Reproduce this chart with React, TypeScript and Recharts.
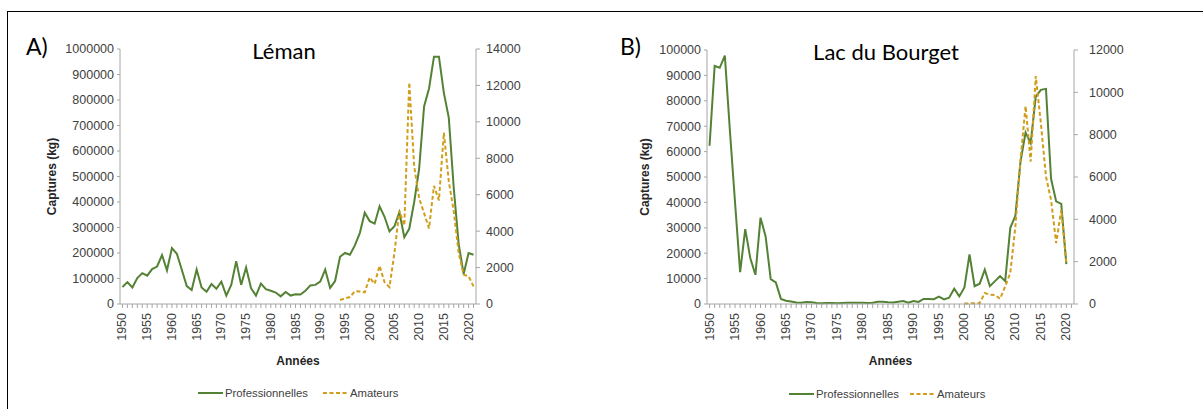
import React from "react";
import { LineChart, Line, XAxis, YAxis } from "recharts";

// categories (both panels share the same year axis)
const years = [
  1950, 1951, 1952, 1953, 1954, 1955, 1956, 1957, 1958, 1959,
  1960, 1961, 1962, 1963, 1964, 1965, 1966, 1967, 1968, 1969,
  1970, 1971, 1972, 1973, 1974, 1975, 1976, 1977, 1978, 1979,
  1980, 1981, 1982, 1983, 1984, 1985, 1986, 1987, 1988, 1989,
  1990, 1991, 1992, 1993, 1994, 1995, 1996, 1997, 1998, 1999,
  2000, 2001, 2002, 2003, 2004, 2005, 2006, 2007, 2008, 2009,
  2010, 2011, 2012, 2013, 2014, 2015, 2016, 2017, 2018, 2019,
  2020, 2021,
];

// A) Léman
const lemanPro = [
  67000, 86000, 65000, 102000, 121000, 111000, 137000, 147000, 192000, 132000,
  219000, 197000, 134000, 70000, 55000, 135000, 65000, 48000, 78000, 60000,
  88000, 33000, 75000, 168000, 75000, 143000, 62000, 33000, 80000, 58000,
  52000, 45000, 30000, 47000, 33000, 38000, 37000, 52000, 73000, 75000,
  88000, 135000, 63000, 90000, 185000, 200000, 193000, 230000, 278000, 358000,
  325000, 315000, 383000, 342000, 285000, 305000, 360000, 262000, 295000, 400000,
  530000, 775000, 845000, 970000, 970000, 828000, 730000, 455000, 235000, 118000,
  200000, 193000,
];
const lemanAmateurs = [
  null, null, null, null, null, null, null, null, null, null,
  null, null, null, null, null, null, null, null, null, null,
  null, null, null, null, null, null, null, null, null, null,
  null, null, null, null, null, null, null, null, null, null,
  null, null, null, null, 220, 310, 380, 700, 680, 640,
  1460, 1110, 2100, 1190, 930, 2800, 5120, 4310, 12160, 7550,
  5810, 4990, 4150, 6490, 5690, 9410, 6730, 5080, 2800, 1610,
  1520, 970,
];

// B) Lac du Bourget
const bourgetPro = [
  62300, 93700, 93000, 97800, 68000, 40000, 12500, 29500, 18000, 11500,
  34000, 26600, 9800, 8500, 2000, 1300, 1000, 600, 500, 800,
  700, 400, 300, 400, 400, 300, 400, 500, 500, 500,
  500, 400, 500, 900, 900, 700, 600, 900, 1200, 500,
  1200, 800, 2000, 2000, 1900, 2900, 1800, 2500, 6000, 3000,
  6500, 19500, 7000, 8000, 13500, 7000, 9000, 11000, 9000, 30000,
  34700, 56000, 67500, 63300, 81600, 84300, 84700, 49300, 40400, 39400,
  15700, null,
];
const bourgetAmateurs = [
  null, null, null, null, null, null, null, null, null, null,
  null, null, null, null, null, null, null, null, null, null,
  null, null, null, null, null, null, null, null, null, null,
  null, null, null, null, null, null, null, null, null, null,
  null, null, null, null, null, null, null, null, null, null,
  20, 30, 30, 50, 520, 440, 420, 250, 830, 1460,
  3660, 6800, 9350, 6730, 10770, 8540, 6020, 4920, 2880, 4450,
  1930, null,
];

const lemanLeftTicks = [0, 100000, 200000, 300000, 400000, 500000, 600000, 700000, 800000, 900000, 1000000];
const lemanRightTicks = [0, 2000, 4000, 6000, 8000, 10000, 12000, 14000];
const bourgetLeftTicks = [0, 10000, 20000, 30000, 40000, 50000, 60000, 70000, 80000, 90000, 100000];
const bourgetRightTicks = [0, 2000, 4000, 6000, 8000, 10000, 12000];

const GREEN = "#548235";
const GOLD = "#D09E1A";
const AXIS = "#a6a6a6";
const TEXT = "#404040";
const FONT = '"Liberation Sans", Arial, sans-serif';

function YearTick(props: any) {
  const { x, y, payload } = props;
  if (payload.value % 5 !== 0) return <g />;
  return (
    <text
      x={x}
      y={y}
      transform={`rotate(-90 ${x} ${y})`}
      textAnchor="end"
      dominantBaseline="central"
      fontSize={12.5}
      fontFamily={FONT}
      fill={TEXT}
    >
      {payload.value}
    </text>
  );
}

function LegendItem({ left, top, label, dashed }: { left: number; top: number; label: string; dashed?: boolean }) {
  return (
    <div style={{ position: "absolute", left, top, display: "flex", alignItems: "center", height: 16 }}>
      <svg width={25} height={4} style={{ marginRight: 2 }}>
        <line
          x1={0}
          y1={2}
          x2={25}
          y2={2}
          stroke={dashed ? GOLD : GREEN}
          strokeWidth={2}
          strokeDasharray={dashed ? "4 2.5" : undefined}
        />
      </svg>
      <span style={{ fontFamily: FONT, fontSize: 11.3, color: TEXT }}>{label}</span>
    </div>
  );
}

type PanelProps = {
  left: number;
  width: number;
  pro: (number | null)[];
  amateurs: (number | null)[];
  leftTicks: number[];
  rightTicks: number[];
  margin: { top: number; right: number; bottom: number; left: number };
  labelOffset: number;
  pad: number;
  rightGap: number;
};

function Panel({ left, width, pro, amateurs, leftTicks, rightTicks, margin, labelOffset, pad, rightGap }: PanelProps) {
  const data = years.map((year, i) => ({ year, pro: pro[i], amateurs: amateurs[i] }));
  return (
    <div style={{ position: "absolute", left, top: 0 }}>
      <LineChart width={width} height={409} data={data} margin={margin} style={{ fontFamily: FONT }}>
        <XAxis
          dataKey="year"
          interval={0}
          tick={<YearTick />}
          tickSize={4}
          tickMargin={5}
          height={70}
          padding={{ left: pad, right: pad }}
          axisLine={{ stroke: AXIS }}
          tickLine={{ stroke: AXIS }}
          label={{
            value: "Années",
            position: "insideBottom",
            offset: 9,
            style: { fontWeight: "bold", fontSize: 12, fill: "#262626", fontFamily: FONT },
          }}
        />
        <YAxis
          yAxisId="left"
          orientation="left"
          width={74}
          domain={[leftTicks[0], leftTicks[leftTicks.length - 1]]}
          ticks={leftTicks}
          interval={0}
          tickSize={3}
          tickMargin={3}
          axisLine={{ stroke: AXIS }}
          tickLine={{ stroke: AXIS }}
          tick={{ fontSize: 12.5, fill: TEXT, fontFamily: FONT }}
          label={{
            value: "Captures (kg)",
            angle: -90,
            position: "insideLeft",
            offset: labelOffset,
            style: { textAnchor: "middle", fontWeight: "bold", fontSize: 12, fill: "#262626", fontFamily: FONT },
          }}
        />
        <YAxis
          yAxisId="right"
          orientation="right"
          width={60}
          domain={[rightTicks[0], rightTicks[rightTicks.length - 1]]}
          ticks={rightTicks}
          interval={0}
          tickSize={4}
          tickMargin={rightGap}
          axisLine={{ stroke: AXIS }}
          tickLine={{ stroke: AXIS }}
          tick={{ fontSize: 12.5, fill: TEXT, fontFamily: FONT }}
        />
        <Line
          yAxisId="left"
          dataKey="pro"
          stroke={GREEN}
          strokeWidth={2}
          dot={false}
          activeDot={false}
          isAnimationActive={false}
        />
        <Line
          yAxisId="right"
          dataKey="amateurs"
          stroke={GOLD}
          strokeWidth={2}
          strokeDasharray="4 2.5"
          dot={false}
          activeDot={false}
          isAnimationActive={false}
        />
      </LineChart>
    </div>
  );
}

const bigText: React.CSSProperties = {
  position: "absolute",
  fontFamily: "Lato, 'Open Sans', sans-serif",
  fontSize: 22,
  color: "#000",
  lineHeight: 1,
  whiteSpace: "nowrap",
};

export default function App() {
  return (
    <div
      style={{
        position: "absolute",
        left: 0,
        top: 0,
        width: 1203,
        height: 409,
        background: "#fff",
        overflow: "hidden",
      }}
    >
      <div
        style={{
          position: "absolute",
          left: 7,
          top: 11,
          width: 1210,
          height: 420,
          borderTop: "1.5px solid #000",
          borderLeft: "1.5px solid #000",
        }}
      />
      <Panel
        left={0}
        width={600}
        pro={lemanPro}
        amateurs={lemanAmateurs}
        leftTicks={lemanLeftTicks}
        rightTicks={lemanRightTicks}
        margin={{ top: 49, right: 64, bottom: 35, left: 46 }}
        labelOffset={6}
        pad={2.47}
        rightGap={6}
      />
      <Panel
        left={600}
        width={603}
        pro={bourgetPro}
        amateurs={bourgetAmateurs}
        leftTicks={bourgetLeftTicks}
        rightTicks={bourgetRightTicks}
        margin={{ top: 50, right: 69, bottom: 35, left: 33 }}
        labelOffset={12}
        pad={2.55}
        rightGap={11}
      />

      <div style={{ ...bigText, fontSize: 23, left: 26, top: 35 }}>A)</div>
      <div style={{ ...bigText, left: 284, top: 51, transform: "translate(-50%, -50%)" }}>Léman</div>
      <div style={{ ...bigText, fontSize: 23, left: 620, top: 35 }}>B)</div>
      <div style={{ ...bigText, left: 886, top: 52, transform: "translate(-50%, -50%)" }}>Lac du Bourget</div>

      <LegendItem left={198} top={385} label="Professionnelles" />
      <LegendItem left={323} top={385} label="Amateurs" dashed />
      <LegendItem left={789} top={386} label="Professionnelles" />
      <LegendItem left={910} top={386} label="Amateurs" dashed />
    </div>
  );
}
